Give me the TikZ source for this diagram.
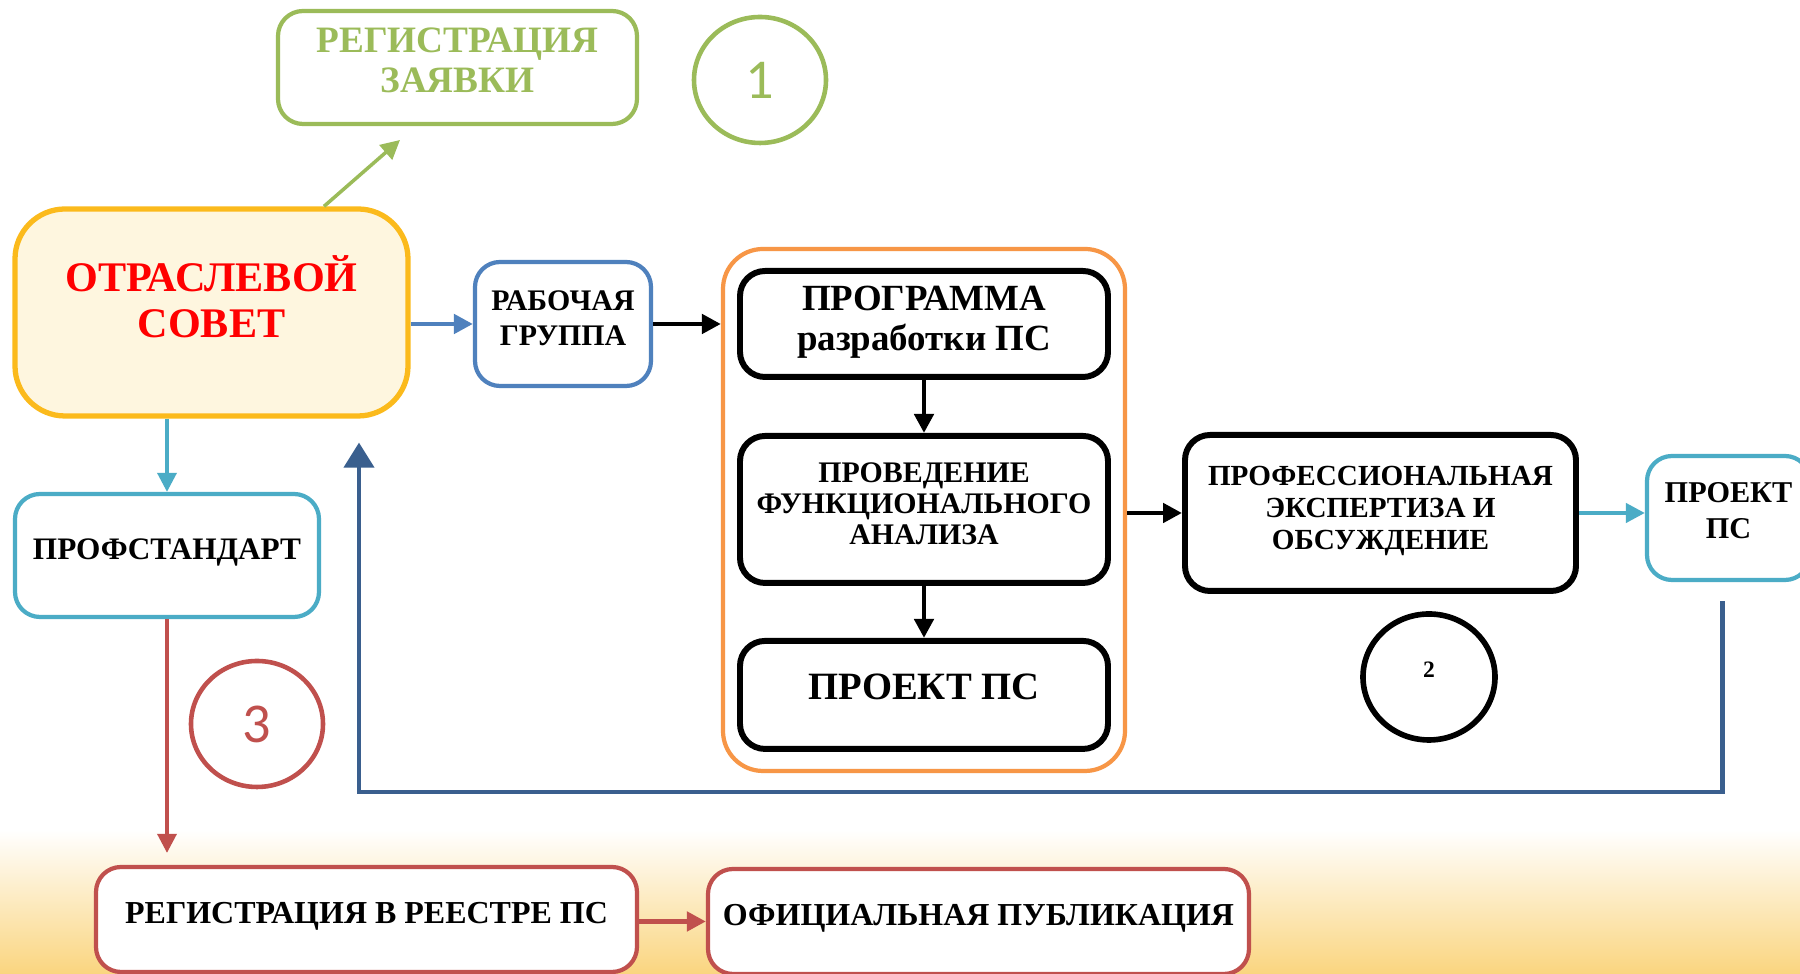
\documentclass[tikz,border=0pt]{standalone}
\usepackage{fontspec}
\setmainfont{Liberation Serif}
\newfontfamily\digitfont{Carlito}
\usetikzlibrary{arrows.meta,positioning,shapes.geometric}

\definecolor{stepgreen}{HTML}{9BBB59}
\definecolor{councilgold}{HTML}{FBBA1C}
\definecolor{councilfill}{HTML}{FEF6DF}
\definecolor{groupblue}{HTML}{4F81BD}
\definecolor{stageorange}{HTML}{F79646}
\definecolor{psblue}{HTML}{4BACC6}
\definecolor{backblue}{HTML}{3A5F8E}
\definecolor{regred}{HTML}{C0504D}
\definecolor{bggold}{HTML}{FAD57F}

\begin{document}
\begin{tikzpicture}[
    box/.style={rectangle, rounded corners=2.5mm, very thick, fill=white,
                align=center, inner sep=1pt},
    blackbox/.style={box, draw=black, line width=1.7pt},
    ring/.style={ellipse, line width=1.3pt, minimum width=1.32cm,
                 minimum height=1.26cm, inner sep=0pt},
    lift/.style 2 args={text height=#1, text depth=#2},
    link/.style={-{Triangle[length=1.9mm,width=1.9mm]}, line width=1.4pt}
  ]
  % page and the warm band at the bottom
  \useasboundingbox (0,0) rectangle (18,-9.74);
  \fill [white] (0,0) rectangle (18,-9.74);
  \shade [top color=white, bottom color=bggold] (0,-8.3) rectangle (18,-9.74);

  % step 1
  \node (application) [box, draw=stepgreen, text=stepgreen,
                       minimum width=3.59cm, minimum height=1.13cm,
                       font=\fontsize{10.6}{11.4}\selectfont\bfseries,
                       lift={18.4pt}{3.9pt}]
        at (4.575,-0.675) {РЕГИСТРАЦИЯ\\ЗАЯВКИ};
  \node (ring1) [ring, draw=stepgreen, text=stepgreen,
                 font=\fontsize{16}{16}\digitfont] at (7.60,-0.80) {1};
  \node (council) [box, draw=councilgold, fill=councilfill, text=red,
                   line width=1.5pt, rounded corners=5mm,
                   minimum width=3.93cm, minimum height=2.07cm,
                   font=\fontsize{12}{13.1}\selectfont\bfseries,
                   lift={21pt}{6.6pt}]
        at (2.115,-3.125) {ОТРАСЛЕВОЙ\\СОВЕТ};
  \node (group) [box, draw=groupblue, minimum width=1.76cm,
                 minimum height=1.24cm,
                 font=\fontsize{8.5}{10.1}\selectfont\bfseries,
                 lift={15.7pt}{3.2pt}]
        at (5.63,-3.24) {РАБОЧАЯ\\ГРУППА};

  % development stage
  \node (stage) [box, draw=stageorange, rounded corners=4mm,
                 minimum width=4.02cm, minimum height=5.22cm]
        at (9.24,-5.10) {};
  \node (program) [blackbox, minimum width=3.68cm, minimum height=1.06cm,
                   font=\fontsize{10.5}{11.4}\selectfont\bfseries,
                   lift={18.3pt}{3.3pt}]
        at (9.24,-3.24) {ПРОГРАММА\\разработки ПС};
  \node (analysis) [blackbox, minimum width=3.68cm, minimum height=1.47cm,
                    font=\fontsize{8.5}{8.9}\selectfont\bfseries,
                    lift={23.4pt}{3.2pt}]
                   [below=5.3mm of program]
        {ПРОВЕДЕНИЕ\\ФУНКЦИОНАЛЬНОГО\\АНАЛИЗА};
  \node (draft) [blackbox, minimum width=3.68cm, minimum height=1.08cm,
                 font=\fontsize{11}{11}\selectfont\bfseries,
                 lift={7.3pt}{4.6pt}]
                [below=5.2mm of analysis]
        {ПРОЕКТ ПС};

  % step 2
  \node (expert) [blackbox, minimum width=3.91cm, minimum height=1.56cm,
                  font=\fontsize{8.3}{9.1}\selectfont\bfseries,
                  lift={23.7pt}{3pt}]
        at (13.805,-5.13) {ПРОФЕССИОНАЛЬНАЯ\\ЭКСПЕРТИЗА И\\ОБСУЖДЕНИЕ};
  \node (finaldraft) [box, draw=psblue, minimum width=1.63cm,
                      minimum height=1.24cm,
                      font=\fontsize{8.6}{10.1}\selectfont\bfseries,
                      lift={15.8pt}{4.2pt}]
        at (17.285,-5.18) {ПРОЕКТ\\ПС};
  \node (ring2) [ring, draw=black, line width=1.6pt,
                 font=\fontsize{6.7}{6.7}\selectfont\bfseries,
                 lift={4.5pt}{4pt}]
        at (14.29,-6.77) {2};

  % step 3
  \node (standard) [box, draw=psblue, minimum width=3.04cm,
                    minimum height=1.23cm,
                    font=\fontsize{8.9}{8.9}\selectfont\bfseries,
                    lift={5.9pt}{3.5pt}]
        at (1.67,-5.555) {ПРОФСТАНДАРТ};
  \node (ring3) [ring, draw=regred, text=regred,
                 font=\fontsize{16}{16}\digitfont] at (2.57,-7.24) {3};
  \node (register) [box, draw=regred, minimum width=5.41cm,
                    minimum height=1.05cm,
                    font=\fontsize{9.1}{9.1}\selectfont\bfseries,
                    lift={6pt}{3.5pt}]
        at (3.665,-9.195) {РЕГИСТРАЦИЯ В РЕЕСТРЕ ПС};
  \node (publication) [box, draw=regred, minimum width=5.41cm,
                       minimum height=1.05cm,
                       font=\fontsize{9.1}{9.1}\selectfont\bfseries,
                       lift={6pt}{3.5pt}]
        at (9.785,-9.215) {ОФИЦИАЛЬНАЯ ПУБЛИКАЦИЯ};

  % connectors
  \coordinate (toapp) at (4.00,-1.40);
  \coordinate (corner) at (3.59,-7.92);
  \draw [link, stepgreen, line width=1pt] ([xshift=1.125cm]council.north) -- (toapp);
  \draw [link, groupblue] (council.east |- group.west) -- (group.west);
  \draw [link, black] (group.east) -- (stage.west |- group.east);
  \draw [link, black] (program.south) -- (analysis.north);
  \draw [link, black] (analysis.south) -- (draft.north);
  \draw [link, black] (stage.east |- expert.west) -- (expert.west);
  \draw [link, psblue, line width=1.2pt] (expert.east) -- (finaldraft.west |- expert.east);
  \draw [link, psblue, line width=1pt] (council.south -| standard.north) -- (standard.north);
  \draw [link, regred, line width=1pt, shorten >=1.2mm]
        (standard.south) -- (standard.south |- register.north);
  \draw [link, regred] (register.east |- publication.west) -- (publication.west);
  \draw [backblue, line width=1.2pt, shorten >=2.4mm,
         -{Triangle[length=2.5mm,width=3mm]}]
        ([xshift=-0.6mm,yshift=-1.9mm]finaldraft.south) |- (corner)
        -- (corner |- council.south);
\end{tikzpicture}
\end{document}
